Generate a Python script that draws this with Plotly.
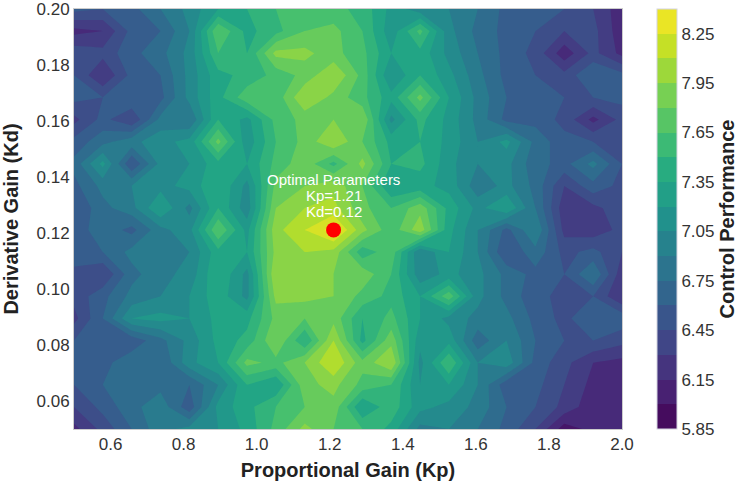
import numpy as np
import plotly.graph_objects as go
from plotly.colors import sample_colorscale

# Grid (20 x 20) of gains
kp_values = [0.5, 0.5789, 0.6579, 0.7368, 0.8158, 0.8947, 0.9737, 1.0526, 1.1316, 1.2105,
             1.2895, 1.3684, 1.4474, 1.5263, 1.6053, 1.6842, 1.7632, 1.8421, 1.9211, 2.0]
kd_values = [0.05, 0.0579, 0.0658, 0.0737, 0.0816, 0.0895, 0.0974, 0.1053, 0.1132, 0.1211,
             0.1289, 0.1368, 0.1447, 0.1526, 0.1605, 0.1684, 0.1763, 0.1842, 0.1921, 0.2]

# Control performance, rows = Kd (bottom -> top), columns = Kp (left -> right)
perf_kd_050 = [6.10, 6.35, 6.60, 6.85, 6.95, 7.05, 7.25, 7.55, 7.85, 7.65, 7.50, 7.30, 6.85, 6.90, 6.75, 6.55, 6.30, 5.92, 6.05, 6.00]
perf_kd_058 = [6.30, 6.50, 6.70, 6.85, 6.50, 7.10, 7.30, 7.50, 7.65, 7.75, 7.20, 7.45, 7.10, 7.00, 6.85, 6.60, 6.45, 6.25, 6.05, 6.10]
perf_kd_066 = [6.45, 6.60, 6.75, 6.70, 6.60, 6.90, 7.35, 7.20, 7.75, 7.85, 7.60, 7.50, 7.05, 7.20, 6.90, 6.50, 6.50, 6.30, 6.10, 6.05]
perf_kd_074 = [6.50, 6.55, 6.70, 6.60, 7.00, 7.20, 7.70, 7.60, 7.80, 8.10, 7.70, 7.95, 7.00, 7.50, 6.90, 7.00, 6.55, 6.35, 6.15, 6.10]
perf_kd_082 = [6.45, 6.55, 6.50, 6.70, 6.95, 7.25, 7.40, 7.80, 7.35, 7.95, 7.30, 7.75, 7.10, 7.15, 6.65, 6.90, 6.60, 6.45, 6.45, 6.35]
perf_kd_089 = [6.25, 6.60, 7.05, 7.10, 7.05, 7.25, 7.30, 7.70, 7.65, 7.75, 7.35, 7.55, 7.20, 7.00, 6.85, 6.80, 6.55, 6.40, 6.60, 6.55]
perf_kd_097 = [6.35, 6.55, 6.80, 6.90, 7.05, 7.30, 7.00, 7.85, 7.85, 7.80, 7.60, 7.45, 7.20, 7.60, 6.95, 6.70, 6.50, 6.40, 6.45, 6.15]
perf_kd_105 = [6.40, 6.30, 6.70, 6.85, 6.95, 7.35, 7.00, 7.95, 7.90, 7.80, 7.75, 7.50, 6.95, 7.10, 6.95, 6.70, 6.55, 6.45, 6.75, 6.20]
perf_kd_113 = [6.55, 6.60, 6.80, 6.85, 6.90, 7.30, 7.20, 7.85, 7.95, 7.90, 7.40, 7.60, 6.90, 7.20, 6.90, 6.45, 6.70, 6.40, 6.50, 6.30]
perf_kd_121 = [6.50, 6.70, 6.55, 6.85, 7.00, 7.65, 7.15, 7.90, 8.10, 8.32, 7.85, 7.55, 7.90, 7.25, 6.90, 6.55, 6.90, 6.25, 6.20, 6.35]
perf_kd_129 = [6.45, 6.70, 6.85, 7.20, 6.85, 7.35, 6.95, 7.80, 7.95, 8.00, 7.70, 7.50, 7.75, 7.30, 7.00, 7.20, 6.75, 6.20, 6.25, 6.40]
perf_kd_137 = [6.55, 6.80, 6.90, 7.00, 7.10, 7.35, 7.00, 7.70, 7.80, 7.90, 7.65, 7.20, 7.25, 7.15, 6.80, 6.95, 6.70, 6.30, 6.55, 6.40]
perf_kd_145 = [6.65, 7.10, 6.45, 6.95, 7.05, 7.30, 7.20, 7.55, 7.75, 7.45, 7.85, 7.35, 7.40, 7.10, 6.90, 6.95, 6.65, 6.55, 6.80, 6.45]
perf_kd_153 = [6.50, 6.70, 6.85, 7.00, 7.10, 7.70, 7.10, 7.50, 7.70, 7.95, 7.65, 7.30, 7.35, 7.15, 6.90, 7.10, 6.70, 6.50, 6.45, 6.40]
perf_kd_161 = [6.25, 6.50, 6.30, 6.80, 6.75, 7.35, 7.15, 7.55, 7.70, 7.80, 7.80, 7.00, 7.40, 7.15, 6.85, 6.55, 6.55, 6.40, 6.10, 6.35]
perf_kd_168 = [6.50, 6.45, 6.60, 6.55, 6.95, 7.30, 7.60, 7.55, 7.95, 7.75, 7.55, 7.25, 7.70, 7.20, 6.85, 6.60, 6.55, 6.45, 6.45, 6.50]
perf_kd_176 = [6.45, 6.15, 6.50, 6.60, 6.95, 7.30, 7.40, 7.55, 7.70, 7.95, 7.60, 7.05, 7.35, 7.10, 6.80, 6.55, 6.45, 6.35, 6.60, 6.50]
perf_kd_184 = [6.40, 6.35, 6.55, 6.70, 6.95, 7.50, 7.35, 7.85, 7.85, 7.70, 7.55, 7.20, 7.30, 7.00, 6.75, 6.55, 6.40, 6.05, 6.35, 6.10]
perf_kd_192 = [6.10, 6.15, 6.50, 6.60, 6.90, 7.65, 7.30, 7.45, 7.65, 7.70, 7.50, 7.10, 7.55, 6.95, 6.70, 6.55, 6.45, 6.30, 6.35, 6.05]
perf_kd_200 = [6.50, 6.45, 6.55, 6.75, 6.95, 7.20, 7.35, 7.50, 7.60, 7.55, 7.45, 7.15, 6.95, 6.90, 6.75, 6.55, 6.50, 6.45, 6.30, 6.05]

perf_rows = [perf_kd_050, perf_kd_058, perf_kd_066, perf_kd_074, perf_kd_082,
             perf_kd_089, perf_kd_097, perf_kd_105, perf_kd_113, perf_kd_121,
             perf_kd_129, perf_kd_137, perf_kd_145, perf_kd_153, perf_kd_161,
             perf_kd_168, perf_kd_176, perf_kd_184, perf_kd_192, perf_kd_200]

cbar_ticks = [5.85, 6.15, 6.45, 6.75, 7.05, 7.35, 7.65, 7.95, 8.25]
x_ticks = [0.6, 0.8, 1.0, 1.2, 1.4, 1.6, 1.8, 2.0]
y_ticks = [0.06, 0.08, 0.10, 0.12, 0.14, 0.16, 0.18, 0.20]

z = np.array(perf_rows)
j_opt, i_opt = np.unravel_index(np.argmax(z), z.shape)
kp_opt = kp_values[i_opt]
kd_opt = kd_values[j_opt]
label_lines = ["Optimal Parameters", f"Kp={kp_opt:.2f}", f"Kd={kd_opt:.2f}"]

# Styling
FONT = "Liberation Sans, Arial, sans-serif"
viridis = [[0.0, "#440154"], [0.1, "#482576"], [0.2, "#414487"], [0.3, "#355f8d"],
           [0.4, "#2a788e"], [0.5, "#21918c"], [0.6, "#22a884"], [0.7, "#44bf70"],
           [0.8, "#7ad151"], [0.9, "#bddf26"], [1.0, "#fde725"]]
lev_start, lev_size, n_bands = 5.85, 0.15, 17
lev_top = lev_start + lev_size * n_bands

# stepped colorscale for the colorbar (band colours at band midpoints)
band_cols = sample_colorscale(viridis, [(k + 0.5) / n_bands for k in range(n_bands)])
stepped = []
for k, c in enumerate(band_cols):
    stepped.append([k / n_bands, c])
    stepped.append([(k + 1) / n_bands, c])

fig = go.Figure()
fig.add_trace(go.Contour(
    x=kp_values, y=kd_values, z=z,
    colorscale=viridis,
    contours=dict(start=lev_start, end=lev_start + lev_size * (n_bands - 1), size=lev_size,
                  coloring="fill", showlines=False),
    line=dict(width=0, smoothing=0),
    showscale=False, hoverinfo="skip",
))

# colorbar carrier
fig.add_trace(go.Scatter(
    x=[kp_values[0]], y=[kd_values[0]], mode="markers",
    marker=dict(color=[lev_start], colorscale=stepped, cmin=lev_start, cmax=lev_top,
                opacity=0, size=1, showscale=True,
                colorbar=dict(
                    x=1.0639, xanchor="left", xpad=0, y=0.5, yanchor="middle", ypad=0,
                    len=1, lenmode="fraction", thickness=20,
                    outlinewidth=1, outlinecolor="#d4d4e0",
                    tickvals=cbar_ticks, ticktext=[f"{t:.2f}" for t in cbar_ticks],
                    ticks="", ticklabelposition="outside",
                    tickfont=dict(family=FONT, size=17, color="#333333"),
                    title=dict(text="<b>Control Performance</b>", side="right",
                               font=dict(family=FONT, size=20, color="#222222")),
                )),
    showlegend=False, hoverinfo="skip",
))

fig.add_trace(go.Scatter(
    x=[kp_opt], y=[kd_opt], mode="markers",
    marker=dict(color="#ff0000", size=15, line=dict(width=0)),
    showlegend=False, hoverinfo="skip",
))

for line_text, shift in zip(label_lines, [50, 34, 18]):
    fig.add_annotation(
        x=kp_opt, y=kd_opt, xref="x", yref="y",
        text=line_text, showarrow=False, yanchor="middle", yshift=shift,
        font=dict(family=FONT, size=15, color="white"),
    )

axis_common = dict(
    showgrid=False, zeroline=False, showline=True, mirror=True,
    linecolor="#cccccc", linewidth=1, ticks="", automargin=False,
    ticklabeloverflow="allow",
    tickfont=dict(family=FONT, size=17, color="#333333"),
)
fig.update_xaxes(range=[kp_values[0], kp_values[-1] + 1e-9], tickvals=x_ticks, tickformat=".1f",
                 title=dict(text="<b>Proportional Gain (Kp)</b>",
                            font=dict(family=FONT, size=20, color="#222222")),
                 **axis_common)
fig.update_yaxes(range=[kd_values[0], kd_values[-1] + 1e-9], tickvals=y_ticks, tickformat=".2f",
                 title=dict(text="<b>Derivative Gain (Kd)</b>",
                            font=dict(family=FONT, size=20, color="#222222")),
                 **axis_common)

fig.update_layout(
    width=744, height=481,
    margin=dict(l=74, r=122, t=9, b=52, autoexpand=False),
    paper_bgcolor="white", plot_bgcolor="white",
    font=dict(family=FONT),
    showlegend=False,
)

fig.write_html("out.html")
